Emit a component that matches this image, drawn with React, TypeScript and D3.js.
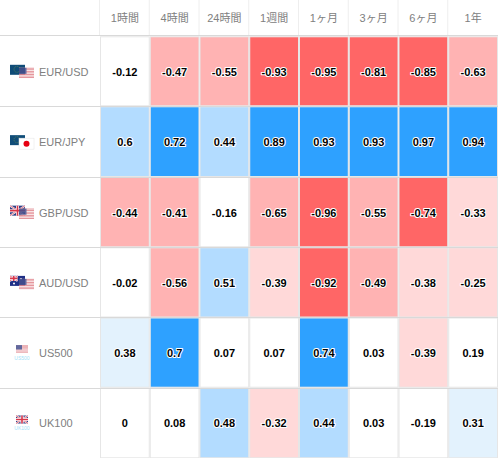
import React from "react";
import * as d3 from "d3";

const W = 498, H = 458;
const periods = ["1時間", "4時間", "24時間", "1週間", "1ヶ月", "3ヶ月", "6ヶ月", "1年"];
const symbols = ["EUR/USD", "EUR/JPY", "GBP/USD", "AUD/USD", "US500", "UK100"];
const eurusd = [-0.12, -0.47, -0.55, -0.93, -0.95, -0.81, -0.85, -0.63];
const eurjpy = [0.6, 0.72, 0.44, 0.89, 0.93, 0.93, 0.97, 0.94];
const gbpusd = [-0.44, -0.41, -0.16, -0.65, -0.96, -0.55, -0.74, -0.33];
const audusd = [-0.02, -0.56, 0.51, -0.39, -0.92, -0.49, -0.38, -0.25];
const us500 = [0.38, 0.7, 0.07, 0.07, 0.74, 0.03, -0.39, 0.19];
const uk100 = [0, 0.08, 0.48, -0.32, 0.44, 0.03, -0.19, 0.31];
const rows = [eurusd, eurjpy, gbpusd, audusd, us500, uk100];
const thresholds = [-0.7, -0.4, -0.2, 0.2, 0.4, 0.7];
const palette = ["#ff6666", "#ffb3b3", "#ffd9d9", "#ffffff", "#e3f2fd", "#b3dcff", "#2ea1ff"];

const color = d3.scaleThreshold<number, string>().domain(thresholds).range(palette);
const x = d3.scaleLinear().domain([0, periods.length]).range([100, 498]);
const rowEdges = [36.8, 106.8, 177.5, 247.8, 318, 388.2, 458.8];
const y = (i: number) => rowEdges[i];
const lineEdges = [35.5, 106.5, 177.5, 247.5, 317.5, 388.5];

const US = ({ x, y, w = 15, h = 11 }: any) => {
  const stripes = d3.range(7);
  return (
    <g opacity={0.85}>
      <rect x={x} y={y} width={w} height={h} fill="#fff" />
      {stripes.map((s) => (
        <rect key={s} x={x} y={y + (s * h) / 7} width={w} height={h / 14} fill="#d9646e" />
      ))}
      <rect x={x} y={y} width={w * 0.5} height={h * 0.55} fill="#474f8c" />
    </g>
  );
};
const EU = ({ x, y }: any) => (
  <g>
    <rect x={x} y={y} width={15} height={10} fill="#0f4c78" />
    <circle cx={x + 7} cy={y + 4.5} r={3} fill="none" stroke="#6f8f50" strokeWidth={0.7} strokeDasharray="1 1" />
  </g>
);
const UKF = ({ x, y, w = 15, h = 10 }: any) => (
  <g>
    <rect x={x} y={y} width={w} height={h} fill="#2f3f86" />
    <path d={`M${x} ${y}L${x + w} ${y + h}M${x + w} ${y}L${x} ${y + h}`} stroke="#fff" strokeWidth={1.8} />
    <path d={`M${x} ${y}L${x + w} ${y + h}M${x + w} ${y}L${x} ${y + h}`} stroke="#d9364a" strokeWidth={0.7} />
    <path d={`M${x + w / 2} ${y}V${y + h}M${x} ${y + h / 2}H${x + w}`} stroke="#fff" strokeWidth={3} />
    <path d={`M${x + w / 2} ${y}V${y + h}M${x} ${y + h / 2}H${x + w}`} stroke="#d9364a" strokeWidth={1.6} />
  </g>
);
const AU = ({ x, y }: any) => (
  <g>
    <rect x={x} y={y} width={15} height={10} fill="#1f2f86" />
    <UKF x={x} y={y} w={7.5} h={5} />
    <circle cx={x + 4} cy={y + 7.5} r={1} fill="#fff" />
    <circle cx={x + 11} cy={y + 3} r={0.8} fill="#fff" />
  </g>
);
const JP = ({ x, y }: any) => (
  <g>
    <rect x={x} y={y} width={15} height={11} fill="#fff" stroke="#e4e4e4" strokeWidth={0.5} />
    <circle cx={x + 7.5} cy={y + 5.5} r={3} fill="#e60012" />
  </g>
);
const Flag = ({ name, cy }: { name: string; cy: number }) => {
  const top = cy - 7;
  if (name === "US500" || name === "UK100")
    return (
      <g>
        {name === "US500" ? <US x={16} y={cy - 8} w={12} h={8} /> : <UKF x={16} y={cy - 8} w={12} h={8} />}
        <text x={22} y={cy + 6.5} textAnchor="middle" fontSize={5} fill="#9fdff8" fontFamily="Liberation Sans">
          {name}
        </text>
      </g>
    );
  const a = name.slice(0, 3), b = name.slice(4);
  return (
    <g>
      {a === "EUR" ? <EU x={10} y={top} /> : a === "GBP" ? <UKF x={10} y={top} /> : <AU x={10} y={top} />}
      {b === "USD" ? <US x={19} y={top + 3} /> : <JP x={19} y={top + 3} />}
    </g>
  );
};

export default function App() {
  return (
    <svg
      width={W}
      height={H}
      viewBox={`0 0 ${W} ${H}`}
      style={{ position: "absolute", left: 0, top: 0, background: "#fff" }}
      fontFamily="'Liberation Sans', Arial, sans-serif"
    >
      {periods.map((p, j) => (
        <g key={p}>
          <line x1={x(j) - 0.5} x2={x(j) - 0.5} y1={0} y2={35} stroke="#eeeeee" />
          <text x={(x(j) + x(j + 1)) / 2} y={18} dy="0.35em" textAnchor="middle" fontSize={11} fill="#808080" fontFamily="'Liberation Sans', 'Noto Sans CJK JP', sans-serif">
            {p}
          </text>
        </g>
      ))}
      {rows.map((vals, i) => {
        const mid = (y(i) + y(i + 1)) / 2;
        return (
          <g key={symbols[i]}>
            <Flag name={symbols[i]} cy={mid} />
            <text x={39} y={mid} dy="0.35em" fontSize={11} fill="#808080">
              {symbols[i]}
            </text>
            {vals.map((v, j) => (
              <g key={j}>
                <rect
                  x={x(j) + 0.5}
                  y={y(i)}
                  width={x(j + 1) - x(j) - 1}
                  height={y(i + 1) - y(i) - 1}
                  fill={color(v)}
                  stroke="#e6e6e6"
                  strokeWidth={1}
                />
                <text
                  x={(x(j) + x(j + 1)) / 2}
                  y={mid}
                  dy="0.35em"
                  textAnchor="middle"
                  fontSize={11}
                  fontWeight="bold"
                  fill="#000"
                  stroke="#fff"
                  strokeWidth={2}
                  paintOrder="stroke"
                  strokeLinejoin="round"
                >
                  {v}
                </text>
              </g>
            ))}
          </g>
        );
      })}
      {lineEdges.map((e) => (
        <line key={e} x1={0} x2={W} y1={e} y2={e} stroke="#d9d9d9" strokeWidth={1} />
      ))}
    </svg>
  );
}
